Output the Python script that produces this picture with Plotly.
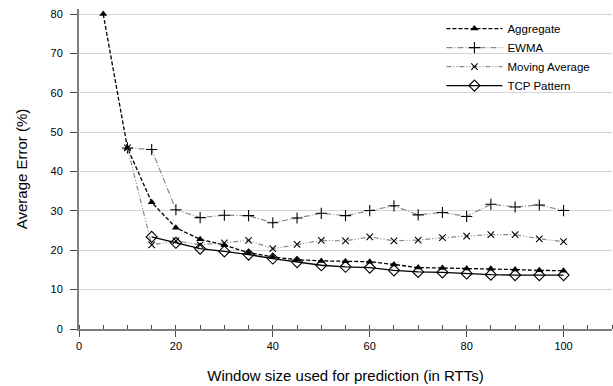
import plotly.graph_objects as go

x_agg = [5, 10, 15, 20, 25, 30, 35, 40, 45, 50, 55, 60, 65, 70, 75, 80, 85, 90, 95, 100]
aggregate = [80.0, 46.0, 32.2, 25.7, 22.8, 21.3, 19.4, 18.3, 17.6, 17.3, 17.2, 17.1, 16.4, 15.6, 15.5, 15.4, 15.3, 15.1, 14.9, 14.8]

x_ewma = [10, 15, 20, 25, 30, 35, 40, 45, 50, 55, 60, 65, 70, 75, 80, 85, 90, 95, 100]
ewma = [46.0, 45.6, 30.3, 28.3, 28.9, 28.8, 27.0, 28.2, 29.4, 28.8, 30.1, 31.3, 29.0, 29.6, 28.6, 31.7, 31.0, 31.5, 30.1]

x_ma = [10, 15, 20, 25, 30, 35, 40, 45, 50, 55, 60, 65, 70, 75, 80, 85, 90, 95, 100]
moving_avg = [46.0, 21.4, 22.4, 21.4, 21.9, 22.5, 20.4, 21.5, 22.5, 22.4, 23.4, 22.4, 22.6, 23.2, 23.6, 24.0, 24.0, 22.9, 22.2]

x_tcp = [15, 20, 25, 30, 35, 40, 45, 50, 55, 60, 65, 70, 75, 80, 85, 90, 95, 100]
tcp_pattern = [23.4, 21.9, 20.4, 19.7, 18.9, 17.9, 17.0, 16.2, 15.8, 15.6, 14.9, 14.5, 14.4, 14.1, 13.8, 13.7, 13.7, 13.7]

FONT = "Liberation Sans, Arial, sans-serif"

fig = go.Figure()
fig.add_trace(go.Scatter(
    x=x_agg, y=aggregate, name="Aggregate", mode="lines+markers",
    line=dict(color="black", width=1.3, dash="4px,2px"),
    marker=dict(symbol="triangle-up", size=7, color="black", line=dict(width=0)),
))
fig.add_trace(go.Scatter(
    x=x_ewma, y=ewma, name="EWMA", mode="lines+markers",
    line=dict(color="#8a8a8a", width=1.2, dash="6px,2px,1px,2px"),
    marker=dict(symbol="cross-thin-open", size=8, color="black", line=dict(width=1.1, color="black")),
))
fig.add_trace(go.Scatter(
    x=x_ma, y=moving_avg, name="Moving Average", mode="lines+markers",
    line=dict(color="#8a8a8a", width=1.2, dash="5px,2px,1px,2px,1px,2px"),
    marker=dict(symbol="x-thin-open", size=6.5, color="black", line=dict(width=1.1, color="black")),
))
fig.add_trace(go.Scatter(
    x=x_tcp, y=tcp_pattern, name="TCP Pattern", mode="lines+markers",
    line=dict(color="black", width=1.3),
    marker=dict(symbol="diamond-open", size=8.5, color="black", line=dict(width=1.1, color="black")),
))

fig.update_layout(
    width=613, height=386,
    margin=dict(l=79, r=1, t=9, b=57),
    paper_bgcolor="white", plot_bgcolor="white",
    font=dict(family=FONT, color="black", size=11),
    showlegend=True,
    legend=dict(
        x=0.68, y=0.984, xanchor="left", yanchor="top",
        font=dict(family=FONT, size=11.5, color="black"),
        bgcolor="rgba(0,0,0,0)", tracegroupgap=0, itemwidth=56,
    ),
    xaxis=dict(
        range=[0, 110], tickvals=[0, 20, 40, 60, 80, 100],
        showgrid=False, zeroline=False,
        showline=True, linecolor="#7f7f7f", linewidth=2,
        ticks="outside", ticklen=6, tickcolor="#4a4a4a", tickwidth=1,
        minor=dict(dtick=5, tick0=0, ticks="inside", ticklen=4, tickcolor="#4a4a4a", tickwidth=1, showgrid=False),
        tickfont=dict(size=11),
        title=dict(text="Window size used for prediction (in RTTs)", font=dict(size=15), standoff=19),
    ),
    yaxis=dict(
        range=[0, 81.3], tickvals=[0, 10, 20, 30, 40, 50, 60, 70, 80],
        showgrid=True, gridcolor="#d4d4d4", gridwidth=1, zeroline=False,
        showline=True, linecolor="#7f7f7f", linewidth=2,
        ticks="outside", ticklen=7, tickcolor="#4a4a4a", tickwidth=1,
        ticklabelstandoff=5,
        tickfont=dict(size=11),
        title=dict(text="Average Error (%)", font=dict(size=15), standoff=19),
    ),
)

fig.write_html("out.html")
